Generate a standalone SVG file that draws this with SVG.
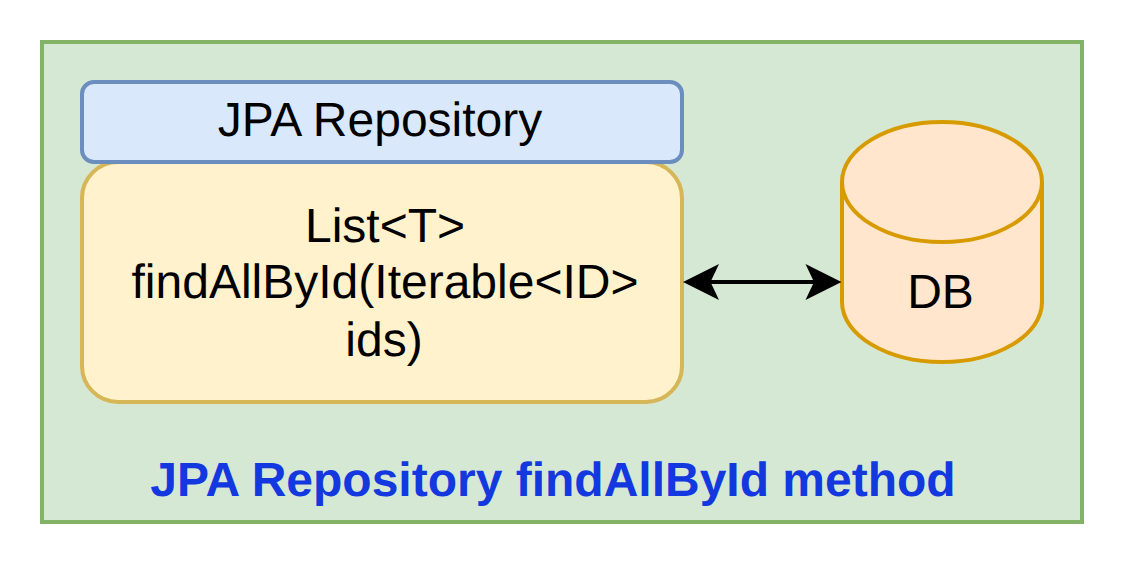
<svg xmlns="http://www.w3.org/2000/svg" width="1124" height="564" viewBox="0 0 1124 564">
<style>
text{font-family:"Liberation Sans",Arial,sans-serif;font-size:48px;fill:#000;text-anchor:middle;text-rendering:geometricPrecision}
.b{stroke-width:4}
</style>
<rect width="1124" height="564" fill="#fff"/>
<g id="frame">
<rect x="42" y="42" width="1040" height="480" fill="#d5e8d4" stroke="#82b366" class="b"/>
<text x="553" y="496" style="fill:#1438e0;font-weight:bold">JPA Repository findAllById method</text>
</g>
<g id="method">
<rect x="82" y="162" width="600" height="240" rx="36" fill="#fff2cc" stroke="#d6b656" class="b"/>
<text x="385" y="242">List&lt;T&gt;</text>
<text x="385" y="298">findAllById(Iterable&lt;ID&gt;</text>
<text x="384" y="356">ids)</text>
</g>
<g id="repository">
<rect x="82" y="82" width="600" height="80" rx="12" fill="#dae8fc" stroke="#6c8ebf" class="b"/>
<text x="380" y="136">JPA Repository</text>
</g>
<g id="db">
<path d="M842 182 C842 149 887 122 942 122 C997 122 1042 149 1042 182 V302 C1042 335 997 362 942 362 C887 362 842 335 842 302 Z" fill="#ffe6cc" stroke="#d79b00" class="b"/>
<path d="M842 182 C842 215 887 242 942 242 C997 242 1042 215 1042 182" fill="none" stroke="#d79b00" class="b"/>
<text x="940.500" y="308">DB</text>
</g>
<g id="connectors">
<path d="M710 282 H814" fill="none" stroke="#000" stroke-width="4"/>
<path d="M683 282 L719 264 L710.500 282 L719 300 Z M841.500 282 L805.500 264 L814 282 L805.500 300 Z" fill="#000"/>
</g>
</svg>
